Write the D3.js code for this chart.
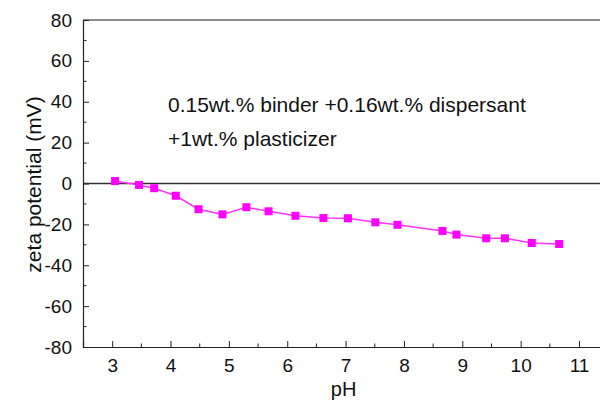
<!DOCTYPE html>
<html><head><meta charset="utf-8">
<script src="https://cdn.jsdelivr.net/npm/d3@7"></script>
<style>
html,body{margin:0;padding:0;background:#fff;overflow:hidden;}
svg{display:block;font-family:"Liberation Sans",Arial,sans-serif;}
</style></head>
<body><svg id="c" width="600" height="401"></svg>
<script>
const pH = [3.05,3.46,3.72,4.09,4.48,4.89,5.30,5.68,6.14,6.62,7.04,7.51,7.89,8.66,8.90,9.41,9.73,10.19,10.66];
const zeta = [1.2,-0.7,-2.3,-6.0,-12.6,-15.1,-11.6,-13.6,-15.8,-16.9,-17.0,-19.0,-20.2,-23.2,-25.0,-26.8,-26.8,-29.1,-29.6];
const xTicks = [3,4,5,6,7,8,9,10,11];
const yTicks = [-80,-60,-40,-20,0,20,40,60,80];
const xLabel = "pH";
const yLabel = "zeta potential (mV)";
const note = ["0.15wt.% binder +0.16wt.% dispersant","+1wt.% plasticizer"];

const svg = d3.select("#c");
const x = d3.scaleLinear().domain([2.5,11.5]).range([83,608.2]);
const y = d3.scaleLinear().domain([-80,80]).range([347,20]);
const axisColor = "#222";
const font = "Liberation Sans, Arial, sans-serif";

// frame: top border
svg.append("line").attr("x1",x(2.5)).attr("x2",x(11.5)).attr("y1",y(80)).attr("y2",y(80))
  .attr("stroke","#666").attr("stroke-width",1.5);

// zero line
svg.append("line").attr("x1",x(2.5)).attr("x2",x(11.5)).attr("y1",y(0)).attr("y2",y(0))
  .attr("stroke","#333").attr("stroke-width",1.5);

// x axis
const xMinor = d3.range(3.5,11.5,1);
const xa = svg.append("g").attr("transform",`translate(0,${y(-80)})`)
  .call(d3.axisBottom(x).tickValues(xTicks).tickSize(-6).tickPadding(12).tickFormat(d=>String(d)));
xa.select(".domain").attr("stroke",axisColor).attr("stroke-width",1.2);
xa.selectAll(".tick line").attr("stroke",axisColor);
xa.selectAll(".tick text").attr("font-size",19).attr("fill","#111").attr("font-family",font);
xa.selectAll(".minor").data(xMinor).enter().append("line").attr("class","minor")
  .attr("x1",d=>x(d)).attr("x2",d=>x(d)).attr("y1",0).attr("y2",-3.5).attr("stroke",axisColor);

// y axis
const yMinor = d3.range(-70,80,20);
const ya = svg.append("g").attr("transform",`translate(${x(2.5)},0)`)
  .call(d3.axisLeft(y).tickValues(yTicks).tickSize(-6).tickPadding(11).tickFormat(d=>String(d)));
ya.select(".domain").attr("stroke",axisColor).attr("stroke-width",1.2);
ya.selectAll(".tick line").attr("stroke",axisColor);
ya.selectAll(".tick text").attr("font-size",19).attr("fill","#111").attr("font-family",font);
ya.selectAll(".minor").data(yMinor).enter().append("line").attr("class","minor")
  .attr("x1",0).attr("x2",3.5).attr("y1",d=>y(d)).attr("y2",d=>y(d)).attr("stroke",axisColor);

// axis titles
svg.append("text").attr("x",(x(3)+x(11))/2-2).attr("y",396).attr("text-anchor","middle")
  .attr("font-size",20).attr("fill","#111").text(xLabel);
svg.append("text").attr("transform",`translate(41,${y(0)+1}) rotate(-90)`).attr("text-anchor","middle")
  .attr("font-size",21).attr("fill","#111").text(yLabel);

// annotation
svg.append("text").attr("x",168).attr("y",112).attr("font-size",21).attr("fill","#111").text(note[0]);
svg.append("text").attr("x",168).attr("y",146).attr("font-size",21).attr("fill","#111").text(note[1]);

// data
const pts = pH.map((p,i)=>[p,zeta[i]]);
svg.append("path").datum(pts).attr("fill","none").attr("stroke","#ff33ff").attr("stroke-width",1.5)
  .attr("d",d3.line().x(d=>x(d[0])).y(d=>y(d[1])));
svg.selectAll(".pt").data(pts).enter().append("rect").attr("class","pt")
  .attr("x",d=>x(d[0])-4).attr("y",d=>y(d[1])-4).attr("width",8).attr("height",8)
  .attr("fill","#ff00ff");
</script></body></html>
